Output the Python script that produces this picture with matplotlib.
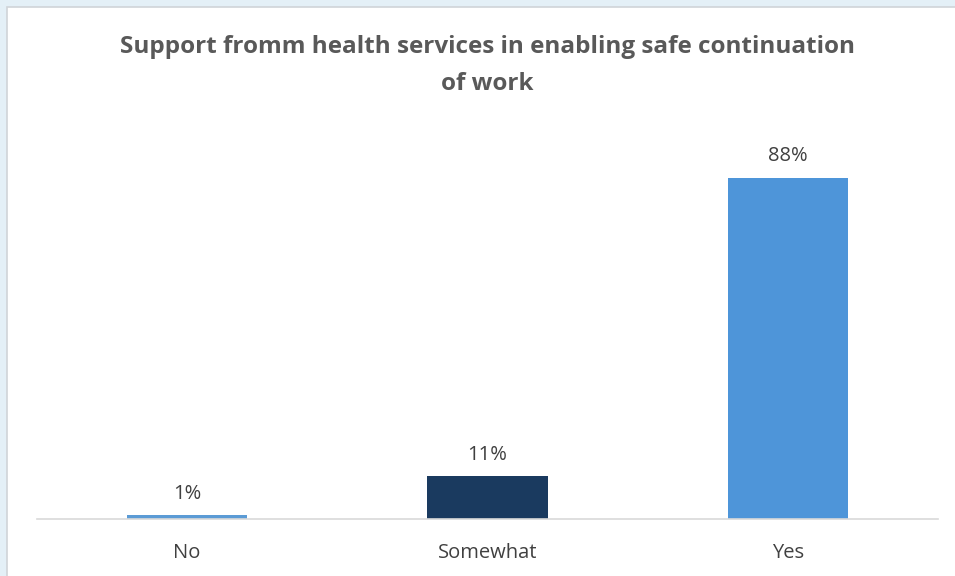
import matplotlib
matplotlib.use("Agg")
import matplotlib.pyplot as plt
from matplotlib.patches import Rectangle

categories = ["No", "Somewhat", "Yes"]
values = [1, 11, 88]
bar_colors = ["#5B9BD5", "#1A3A5F", "#4E95D9"]
title = "Support fromm health services in enabling safe continuation\nof work"

plt.rcParams["font.family"] = ["Open Sans", "DejaVu Sans"]

W, H = 955, 576
fig = plt.figure(figsize=(W / 100, H / 100), dpi=100)
fig.patch.set_facecolor("#E4F0F7")

# white chart panel with thin grey border
panel = Rectangle((6.5 / W, -0.1), 1.2, (H - 6.5) / H + 0.1,
                  transform=fig.transFigure, facecolor="white",
                  edgecolor="#D0D4D8", linewidth=1.2, zorder=-1)
fig.patches.append(panel)

ax_left, ax_right = 37 / W, 938 / W
ax_bottom = (H - 519) / H
ax_top = (H - 131.5) / H
ax = fig.add_axes([ax_left, ax_bottom, ax_right - ax_left, ax_top - ax_bottom])
ax.set_zorder(2)
ax.set_facecolor("none")

x = range(len(categories))
bars = ax.bar(x, values, width=0.4, color=bar_colors, zorder=2)
ax.set_xlim(-0.5, 2.5)
ax.set_ylim(0, 100)

for xi, v in zip(x, values):
    ax.annotate(f"{v}%", (xi, v), xytext=(0, 15.5), textcoords="offset points",
                ha="center", va="center", fontsize=14.5, color="#404040")

ax.set_xticks(list(x))
ax.set_xticklabels(categories, fontsize=14.5, color="#404040")
ax.tick_params(axis="x", length=0, pad=17)
ax.set_yticks([])
for s in ["top", "right", "left"]:
    ax.spines[s].set_visible(False)
ax.spines["bottom"].set_color("#D9D9D9")
ax.spines["bottom"].set_linewidth(1.2)

fig.text(487.5 / W, 1 - 65.5 / H, title, ha="center", va="center",
         fontsize=17.5, fontweight="bold", color="#595959", linespacing=1.75,
         zorder=3)

fig.savefig("out.png", dpi=100, facecolor=fig.get_facecolor())
